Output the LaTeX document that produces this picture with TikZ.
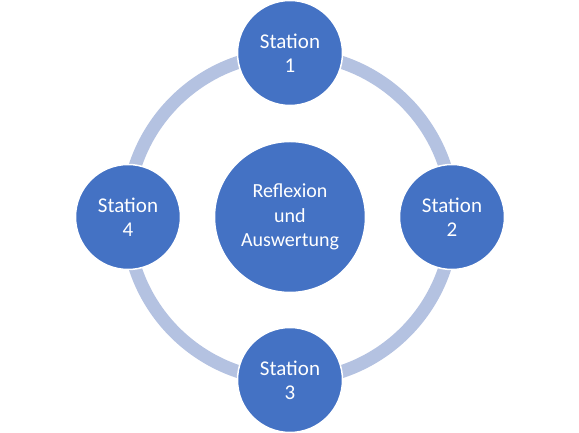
\documentclass[tikz,border=0pt]{standalone}
\usepackage{fontspec}
\setmainfont{Carlito}
\definecolor{nodeblue}{HTML}{4472C4}
\definecolor{ringblue}{HTML}{B4C2E1}
\begin{document}
\begin{tikzpicture}[x=1pt,y=1pt,
  station/.style={circle,fill=nodeblue,draw=white,line width=1.5pt,minimum size=105pt,inner sep=0pt,
    text=white,font=\fontsize{21}{24}\selectfont,align=center},
  hub/.style={station,minimum size=151pt,font=\fontsize{20}{24.5}\selectfont}]
\useasboundingbox (0,0) rectangle (579,433);
\coordinate (c) at (290,216);
\draw[ringblue,line width=13pt] (c) circle (163);
\node[hub] (center) at (c) {Reflexion\\und\\Auswertung};
\node[station] (s1) at (290,380) {Station\\1};
\node[station] (s2) at (452,216) {Station\\2};
\node[station] (s3) at (290,53) {Station\\3};
\node[station] (s4) at (128,216) {Station\\4};
\end{tikzpicture}
\end{document}
